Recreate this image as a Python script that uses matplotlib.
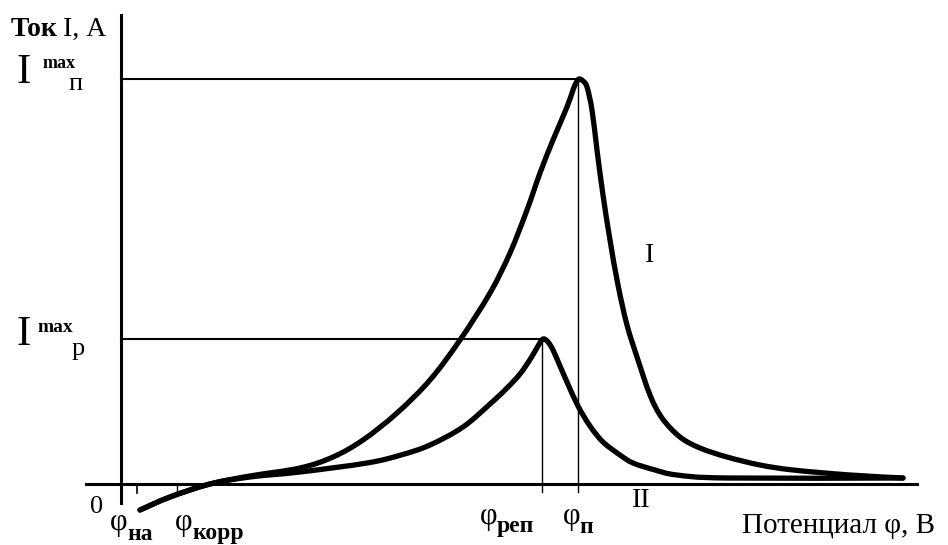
import matplotlib.pyplot as plt
from matplotlib.path import Path
from matplotlib.patches import PathPatch

plt.rcParams['font.family'] = ['Liberation Serif', 'DejaVu Serif']

# potential (phi) and current (I), arbitrary units
phi_1 = [19, 49, 89, 129, 179, 212, 242, 276, 309, 339, 369, 389, 406, 419, 432, 446, 452,
         455, 458, 462, 466, 471, 476, 482, 489, 497, 506, 517, 529, 541, 559, 579, 606,
         639, 672, 729, 782]
cur_1 = [-26, -13, 0, 8, 16, 27, 44, 71, 104, 144, 191, 231, 274, 311, 344, 377, 394,
         401, 405, 403, 397, 374, 334, 289, 244, 199, 159, 124, 89, 66, 47, 36, 27,
         19, 14, 9, 6]

phi_2 = [19, 49, 89, 129, 179, 246, 280, 309, 342, 369, 385, 399, 410, 417, 422, 427, 432,
         439, 446, 457, 469, 482, 499, 512, 534, 556, 606, 782]
cur_2 = [-26, -13, 0, 7, 12, 21, 29, 39, 57, 80, 95, 110, 126, 138, 145, 142, 134,
         118, 102, 78, 58, 42, 29, 21, 14, 9, 6, 6]

phi_p = 457      # passivation potential
phi_rep = 421    # repassivation potential
i_max_p = 405
i_max_r = 145


def smooth_path(xs, ys):
    # cubic bezier through the read points (catmull-rom tangents)
    verts = [(xs[0], ys[0])]
    codes = [Path.MOVETO]
    n = len(xs)
    for i in range(n - 1):
        x0, y0 = xs[max(i - 1, 0)], ys[max(i - 1, 0)]
        x1, y1 = xs[i], ys[i]
        x2, y2 = xs[i + 1], ys[i + 1]
        x3, y3 = xs[min(i + 2, n - 1)], ys[min(i + 2, n - 1)]
        c1 = (x1 + (x2 - x0) / 6, y1 + (y2 - y0) / 6)
        c2 = (x2 - (x3 - x1) / 6, y2 - (y3 - y1) / 6)
        verts += [c1, c2, (x2, y2)]
        codes += [Path.CURVE4] * 3
    return Path(verts, codes)


fig = plt.figure(figsize=(9.48, 5.45), dpi=100)
ax = fig.add_axes([0, 0, 1, 1])
ax.set_xlim(-121, 827)
ax.set_ylim(-61, 484)
ax.axis('off')

# axes
ax.plot([0, 0], [-19, 469], color='black', lw=2.2)
ax.plot([-35, 796], [0, 0], color='black', lw=2.2)
ax.plot([16, 16], [0, -9], color='black', lw=1.2)
ax.plot([56, 56], [0, -7], color='black', lw=1.0)

# guide lines
ax.plot([0, phi_p], [i_max_p, i_max_p], color='black', lw=1.5)
ax.plot([0, phi_rep], [i_max_r, i_max_r], color='black', lw=1.5)
ax.plot([phi_p, phi_p], [i_max_p, -8], color='black', lw=1.0)
ax.plot([phi_rep, phi_rep], [i_max_r, -8], color='black', lw=1.0)

# curves
for xs, ys in [(phi_1, cur_1), (phi_2, cur_2)]:
    ax.add_patch(PathPatch(smooth_path(xs, ys), facecolor='none', edgecolor='black',
                           lw=3.8, capstyle='round', joinstyle='round'))

# labels
ax.text(-110, 448, 'Ток', fontsize=20, fontweight='bold')
ax.text(-58, 448, 'I, А', fontsize=20)

ax.text(-105, 401, 'I', fontsize=31)
ax.text(-78, 416, 'max', fontsize=13, fontweight='bold')
ax.text(-53, 394, 'п', fontsize=19)

ax.text(-105, 139, 'I', fontsize=31)
ax.text(-84, 152, 'max', fontsize=14, fontweight='bold')
ax.text(-49, 129, 'p', fontsize=19)

ax.text(-31, -29, '0', fontsize=19)
ax.text(-11, -46, 'φ', fontsize=22)
ax.text(6, -56, 'на', fontsize=17, fontweight='bold')
ax.text(54, -46, 'φ', fontsize=22)
ax.text(71, -55, 'корр', fontsize=17, fontweight='bold')
ax.text(359, -40, 'φ', fontsize=22)
ax.text(376, -48, 'реп', fontsize=17, fontweight='bold')
ax.text(442, -40, 'φ', fontsize=22)
ax.text(458, -49, 'п', fontsize=17, fontweight='bold')

ax.text(511, -23, 'II', fontsize=20)
ax.text(524, 222, 'I', fontsize=20)
ax.text(621, -49, 'Потенциал φ, В', fontsize=21)

fig.savefig('out.png', dpi=100)
